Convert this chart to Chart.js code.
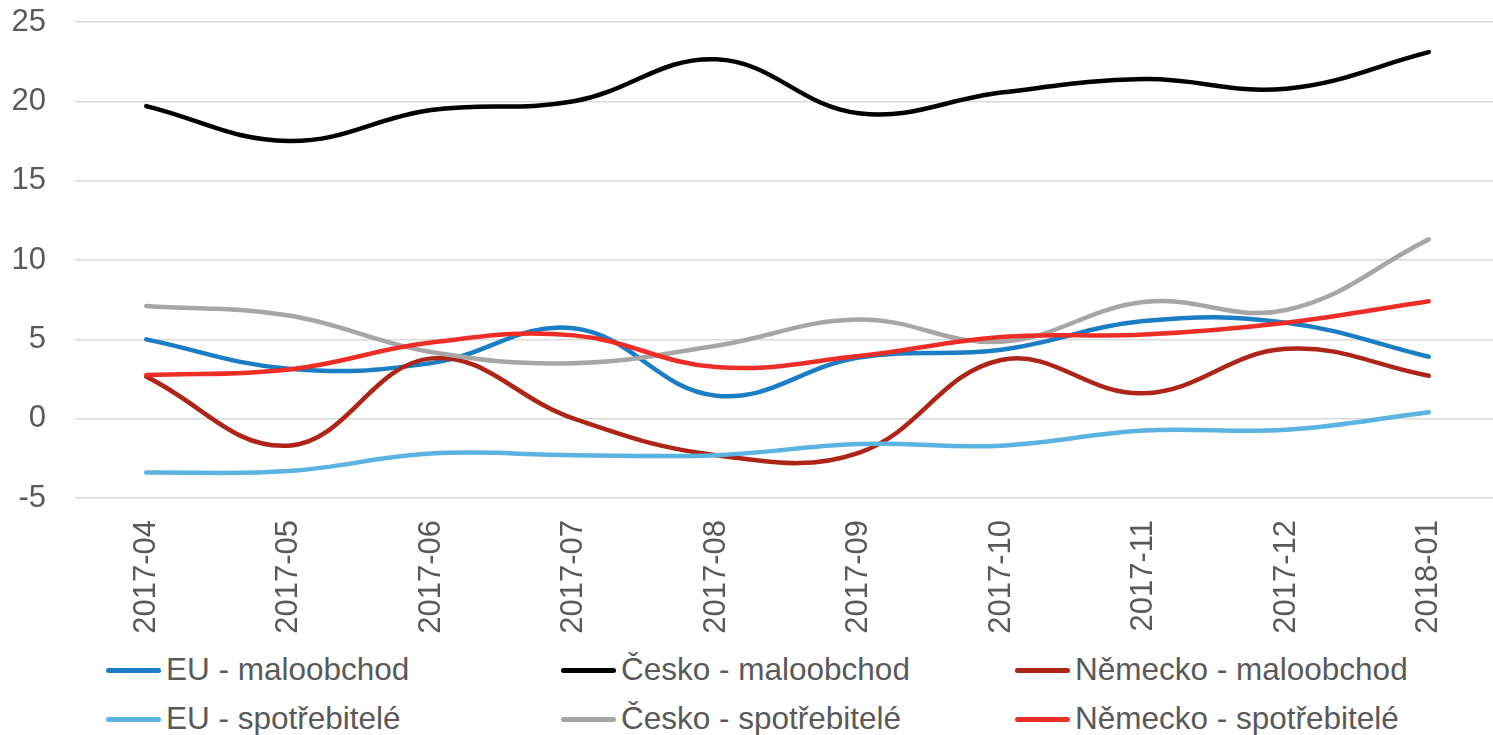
<!DOCTYPE html>
<html lang="cs">
<head>
<meta charset="utf-8">
<title>Maloobchod a spotřebitelé</title>
<script src="https://cdn.jsdelivr.net/npm/chart.js@4/dist/chart.umd.min.js"></script>
<style>
    html, body {
        margin: 0;
        padding: 0;
        background: #ffffff;
        overflow: hidden;
        width: 1493px;
        height: 735px;
    }
    #wrap {
        position: relative;
        width: 1500px;
        height: 645px;
    }
    #legend {
        position: absolute;
        left: 0;
        top: 645px;
        width: 1493px;
        height: 90px;
        font-family: 'Liberation Sans', Arial, sans-serif;
        font-size: 31.5px;
        color: #595959;
    }
    .item {
        position: absolute;
        height: 40px;
        line-height: 40px;
        white-space: nowrap;
    }
    .swatch {
        display: inline-block;
        width: 55px;
        height: 5px;
        border-radius: 3px;
        vertical-align: middle;
        margin-right: 5px;
        position: relative;
        top: -1px;
    }
</style>
</head>
<body>
<div id="wrap"><canvas id="chart"></canvas></div>
<div id="legend"></div>
<script>
(function() {
    'use strict';

    // Data
    const months = ['2017-04', '2017-05', '2017-06', '2017-07', '2017-08',
                    '2017-09', '2017-10', '2017-11', '2017-12', '2018-01'];

    const euRetail     = [5.0, 3.15, 3.5, 5.7, 1.45, 3.85, 4.35, 6.15, 6.05, 3.9];
    const czRetail     = [19.7, 17.5, 19.45, 20.0, 22.65, 19.25, 20.55, 21.4, 20.8, 23.1];
    const deRetail     = [2.65, -1.7, 3.8, 0.0, -2.3, -2.15, 3.7, 1.6, 4.4, 2.7];
    const euConsumers  = [-3.4, -3.3, -2.2, -2.3, -2.3, -1.6, -1.7, -0.75, -0.7, 0.4];
    const czConsumers  = [7.1, 6.5, 4.2, 3.5, 4.6, 6.25, 4.85, 7.35, 6.85, 11.3];
    const deConsumers  = [2.75, 3.1, 4.8, 5.25, 3.25, 3.95, 5.15, 5.3, 6.05, 7.4];

    const seriesNames  = ['EU - maloobchod', 'Česko - maloobchod', 'Německo - maloobchod',
                          'EU - spotřebitelé', 'Česko - spotřebitelé', 'Německo - spotřebitelé'];
    const seriesValues = [euRetail, czRetail, deRetail, euConsumers, czConsumers, deConsumers];
    const seriesColors = ['#1b7ec4', '#000000', '#ae2518', '#5ab3e0', '#a6a6a6', '#ee2e26'];

    const yTicks = [-5, 0, 5, 10, 15, 20, 25];

    const FONT = "'Liberation Sans', Arial, sans-serif";
    const TEXT_COLOR = '#595959';

    /**
     * Build line datasets (last series drawn on top, like the original)
     */
    function buildDatasets() {
        return seriesNames.map(function(name, i) {
            return {
                label: name,
                data: seriesValues[i],
                borderColor: seriesColors[i],
                backgroundColor: seriesColors[i],
                borderWidth: 4.5,
                borderCapStyle: 'round',
                borderJoinStyle: 'round',
                pointRadius: 0,
                pointHoverRadius: 0,
                tension: 0.4,
                fill: false,
                order: seriesNames.length - i
            };
        });
    }

    /**
     * Legend in three columns, two rows
     */
    function buildLegend() {
        const legend = document.getElementById('legend');
        const colLeft = [106, 561, 1015];
        const rowTop = [4, 53];
        seriesNames.forEach(function(name, i) {
            const item = document.createElement('div');
            item.className = 'item';
            item.style.left = colLeft[i % 3] + 'px';
            item.style.top = rowTop[Math.floor(i / 3)] + 'px';
            const sw = document.createElement('span');
            sw.className = 'swatch';
            sw.style.background = seriesColors[i];
            item.appendChild(sw);
            item.appendChild(document.createTextNode(name));
            legend.appendChild(item);
        });
    }

    function init() {
        const ctx = document.getElementById('chart').getContext('2d');

        new Chart(ctx, {
            type: 'line',
            data: {
                labels: months,
                datasets: buildDatasets()
            },
            options: {
                responsive: true,
                maintainAspectRatio: false,
                animation: false,
                layout: {
                    padding: { top: 22, right: 0, bottom: 0, left: 0 }
                },
                plugins: {
                    legend: { display: false },
                    tooltip: { enabled: false }
                },
                scales: {
                    x: {
                        offset: true,
                        grid: { display: false, drawTicks: false },
                        border: { display: false },
                        ticks: {
                            minRotation: 90,
                            maxRotation: 90,
                            autoSkip: false,
                            padding: 22,
                            color: TEXT_COLOR,
                            font: { family: FONT, size: 31 }
                        },
                        afterFit: function(scale) {
                            scale.height = 147;
                            scale.paddingLeft = 0;
                            scale.paddingRight = 0;
                        }
                    },
                    y: {
                        min: yTicks[0],
                        max: yTicks[yTicks.length - 1],
                        afterBuildTicks: function(scale) {
                            scale.ticks = yTicks.map(function(v) { return { value: v }; });
                        },
                        grid: {
                            color: '#d9d9d9',
                            lineWidth: 1.5,
                            drawTicks: false
                        },
                        border: { display: false },
                        ticks: {
                            padding: 29,
                            color: TEXT_COLOR,
                            font: { family: FONT, size: 31 }
                        },
                        afterFit: function(scale) {
                            scale.width = 75;
                            scale.paddingTop = 0;
                            scale.paddingBottom = 0;
                        }
                    }
                }
            }
        });

        buildLegend();
    }

    if (document.readyState === 'loading') {
        document.addEventListener('DOMContentLoaded', init);
    } else {
        init();
    }
})();
</script>
</body>
</html>
